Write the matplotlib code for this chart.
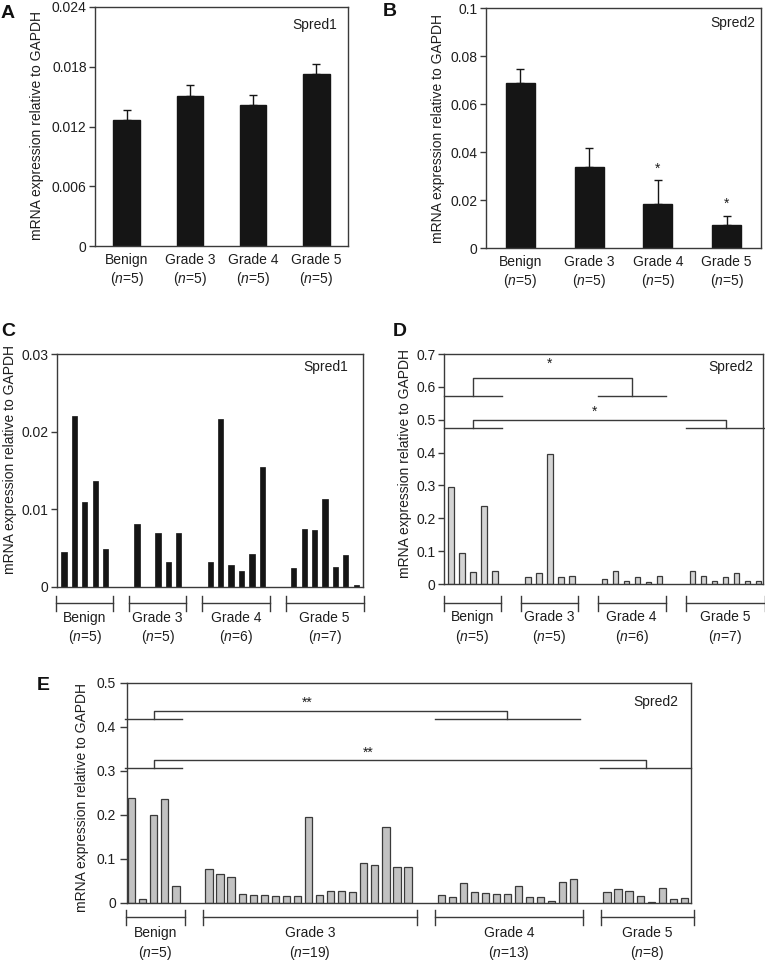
import matplotlib
matplotlib.use('Agg')
import matplotlib.pyplot as plt
from matplotlib.transforms import blended_transform_factory
import numpy as np

plt.rcParams['font.family'] = ['Liberation Sans', 'DejaVu Sans']
plt.rcParams['mathtext.fontset'] = 'custom'
plt.rcParams['mathtext.it'] = 'Liberation Sans:italic'
plt.rcParams['mathtext.rm'] = 'Liberation Sans'

# ---------------- data ----------------
groups = ['Benign', 'Grade 3', 'Grade 4', 'Grade 5']

a_n = [5, 5, 5, 5]
a_mean = [0.01265, 0.0151, 0.0142, 0.01725]
a_err = [0.00105, 0.00105, 0.00097, 0.00098]
a_ticks = [0, 0.006, 0.012, 0.018, 0.024]
a_ticklabels = ['0', '0.006', '0.012', '0.018', '0.024']

b_n = [5, 5, 5, 5]
b_mean = [0.0689, 0.0338, 0.0183, 0.0094]
b_err = [0.0058, 0.0079, 0.0099, 0.0041]
b_sig = ['', '', '*', '*']
b_ticks = [0, 0.02, 0.04, 0.06, 0.08, 0.1]
b_ticklabels = ['0', '0.02', '0.04', '0.06', '0.08', '0.1']

c_benign = [0.0045, 0.0220, 0.0109, 0.0136, 0.0049]
c_grade3 = [0.0081, 0.0, 0.0069, 0.0032, 0.0069]
c_grade4 = [0.0032, 0.0216, 0.0028, 0.0021, 0.0043, 0.0154]
c_grade5 = [0.0024, 0.0075, 0.0073, 0.0113, 0.0026, 0.0041, 0.0002]
c_ticks = [0, 0.01, 0.02, 0.03]
c_ticklabels = ['0', '0.01', '0.02', '0.03']

d_benign = [0.296, 0.095, 0.036, 0.237, 0.041]
d_grade3 = [0.020, 0.035, 0.396, 0.020, 0.024]
d_grade4 = [0.015, 0.041, 0.010, 0.020, 0.005, 0.024]
d_grade5 = [0.041, 0.024, 0.010, 0.020, 0.035, 0.010, 0.010]
d_ticks = [0, 0.1, 0.2, 0.3, 0.4, 0.5, 0.6, 0.7]
d_ticklabels = ['0', '0.1', '0.2', '0.3', '0.4', '0.5', '0.6', '0.7']
d_sig = [('Benign', 'Grade 4', '*'), ('Benign', 'Grade 5', '*')]

e_benign = [0.239, 0.009, 0.199, 0.236, 0.038]
e_grade3 = [0.077, 0.066, 0.060, 0.021, 0.018, 0.018, 0.017, 0.017, 0.017,
            0.195, 0.019, 0.027, 0.027, 0.025, 0.090, 0.086, 0.173, 0.082, 0.082]
e_grade4 = [0.019, 0.013, 0.045, 0.026, 0.023, 0.021, 0.021, 0.0385, 0.014,
            0.014, 0.005, 0.048, 0.054]
e_grade5 = [0.026, 0.032, 0.027, 0.017, 0.002, 0.035, 0.009, 0.011]
e_ticks = [0, 0.1, 0.2, 0.3, 0.4, 0.5]
e_ticklabels = ['0', '0.1', '0.2', '0.3', '0.4', '0.5']
e_sig = [('Benign', 'Grade 4', '**'), ('Benign', 'Grade 5', '**')]

ylabel = 'mRNA expression relative to GAPDH'

# ---------------- layout helpers ----------------
W, H = 765, 961
fig = plt.figure(figsize=(W / 100, H / 100), dpi=100)
SPINE = '#3a3a3a'
TXT = '#1e1e1e'
FS = 10


def px_axes(l, t, r, b):
    return fig.add_axes([l / W, 1 - b / H, (r - l) / W, (b - t) / H])


def style(ax, ticks, labels, pad):
    ax.set_yticks(ticks)
    ax.set_yticklabels(labels)
    for s in ax.spines.values():
        s.set_color(SPINE)
        s.set_linewidth(1.0)
    ax.tick_params(axis='y', direction='out', length=4, width=1, color=SPINE,
                   labelsize=FS, pad=pad, labelcolor=TXT)
    ax.tick_params(axis='x', length=0, labelsize=FS, labelcolor=TXT)


def nlabel(name, n):
    return f'{name}\n($\\mathit{{n}}$={n})'


def slot_positions(sizes):
    pos = []
    start = 0
    for n in sizes:
        pos.append(np.arange(start, start + n))
        start += n + 2
    return pos


def group_brackets(ax, positions, sizes, lo, hi, dy_line, dy_label, ax_h):
    tr = blended_transform_factory(ax.transData, ax.transAxes)
    y = -dy_line / ax_h
    th = 7.5 / ax_h
    for pos, name, n in zip(positions, groups, sizes):
        x0, x1 = pos[0] - lo, pos[-1] + hi
        ax.plot([x0, x1], [y, y], transform=tr, clip_on=False, color=SPINE, lw=1)
        for x in (x0, x1):
            ax.plot([x, x], [y - th, y + th], transform=tr, clip_on=False,
                    color=SPINE, lw=1)
        ax.text((x0 + x1) / 2, -dy_label / ax_h, nlabel(name, n), transform=tr,
                ha='center', va='center', fontsize=FS, color=TXT, linespacing=1.25)


def sig_brackets(ax, positions, sigs, levels, star_frac):
    idx = {g: i for i, g in enumerate(groups)}
    for (g1, g2, mark), (ylo, yhi, ystar) in zip(sigs, levels):
        p1, p2 = positions[idx[g1]], positions[idx[g2]]
        c1, c2 = p1.mean(), p2.mean()
        kw = dict(color=SPINE, lw=1, clip_on=False)
        ax.plot([p1[0] - 0.6, p1[-1] + 0.6], [ylo, ylo], **kw)
        ax.plot([p2[0] - 0.6, p2[-1] + 0.6], [ylo, ylo], **kw)
        ax.plot([c1, c1, c2, c2], [ylo, yhi, yhi, ylo], **kw)
        ax.text(c1 + star_frac * (c2 - c1), ystar, mark, ha='center', va='center',
                fontsize=FS, color=TXT)


# ---------------- Panel A ----------------
axA = px_axes(95, 7, 348, 246)
xa = np.arange(len(groups))
axA.bar(xa, a_mean, width=0.42, color='#151515', edgecolor='#151515')
axA.errorbar(xa, a_mean, yerr=[np.zeros(4), a_err], fmt='none', ecolor='#151515',
             elinewidth=1, capsize=3, capthick=1)
axA.set_xticks(xa)
axA.set_xticklabels([nlabel(g, n) for g, n in zip(groups, a_n)], linespacing=1.25)
style(axA, a_ticks, a_ticklabels, 2)
axA.tick_params(axis='x', pad=5)
axA.set_xlim(-0.5, 3.5)
axA.set_ylim(0, 0.024)
axA.text(0.957, 0.925, 'Spred1', transform=axA.transAxes, ha='right', va='center',
         fontsize=FS, color=TXT)

# ---------------- Panel B ----------------
axB = px_axes(486, 8, 761, 248)
axB.bar(xa, b_mean, width=0.42, color='#151515', edgecolor='#151515')
axB.errorbar(xa, b_mean, yerr=[np.zeros(4), b_err], fmt='none', ecolor='#151515',
             elinewidth=1, capsize=3, capthick=1)
for i, s in enumerate(b_sig):
    if s:
        axB.text(i, b_mean[i] + b_err[i] + 0.0048, s, ha='center', va='center',
                 fontsize=FS, color=TXT)
axB.set_xticks(xa)
axB.set_xticklabels([nlabel(g, n) for g, n in zip(groups, b_n)], linespacing=1.25)
style(axB, b_ticks, b_ticklabels, 2)
axB.tick_params(axis='x', pad=5)
axB.set_xlim(-0.5, 3.5)
axB.set_ylim(0, 0.1)
axB.text(0.978, 0.9375, 'Spred2', transform=axB.transAxes, ha='right', va='center',
         fontsize=FS, color=TXT)

# ---------------- Panel C ----------------
c_data = [c_benign, c_grade3, c_grade4, c_grade5]
c_sizes = [len(v) for v in c_data]
c_pos = slot_positions(c_sizes)
axC = px_axes(57, 354, 363, 587)
for p, v in zip(c_pos, c_data):
    axC.bar(p, v, width=0.5, color='#151515', edgecolor='#151515', linewidth=0.5)
style(axC, c_ticks, c_ticklabels, 2)
axC.set_xticks([])
group_brackets(axC, c_pos, c_sizes, 0.75, 0.7, 16, 41.5, 233)
axC.set_xlim(-0.67, 28.64)
axC.set_ylim(0, 0.03)
axC.text(0.951, 0.944, 'Spred1', transform=axC.transAxes, ha='right', va='center',
         fontsize=FS, color=TXT)

# ---------------- Panel D ----------------
d_data = [d_benign, d_grade3, d_grade4, d_grade5]
d_sizes = [len(v) for v in d_data]
d_pos = slot_positions(d_sizes)
axD = px_axes(444, 354, 763, 584)
for p, v in zip(d_pos, d_data):
    axD.bar(p, v, width=0.48, color='#d4d4d4', edgecolor='#3a3a3a', linewidth=0.9)
style(axD, d_ticks, d_ticklabels, 2)
axD.set_xticks([])
sig_brackets(axD, d_pos, d_sig, [(0.572, 0.626, 0.67), (0.474, 0.499, 0.523)], 0.48)
group_brackets(axD, d_pos, d_sizes, 0.65, 0.55, 19, 44, 230)
axD.set_xlim(-0.64, 28.4)
axD.set_ylim(0, 0.7)
axD.text(0.969, 0.943, 'Spred2', transform=axD.transAxes, ha='right', va='center',
         fontsize=FS, color=TXT)

# ---------------- Panel E ----------------
e_data = [e_benign, e_grade3, e_grade4, e_grade5]
e_sizes = [len(v) for v in e_data]
e_pos = slot_positions(e_sizes)
axE = px_axes(127, 683, 691, 903)
for p, v in zip(e_pos, e_data):
    axE.bar(p, v, width=0.66, color='#c2c2c2', edgecolor='#3a3a3a', linewidth=0.9)
style(axE, e_ticks, e_ticklabels, 3)
axE.tick_params(axis='y', length=5)
axE.set_xticks([])
sig_brackets(axE, e_pos, e_sig, [(0.418, 0.437, 0.455), (0.306, 0.325, 0.342)], 0.435)
group_brackets(axE, e_pos, e_sizes, 0.55, 0.85, 14, 41, 220)
axE.set_xlim(-0.42, 50.6)
axE.set_ylim(0, 0.5)
axE.text(0.977, 0.914, 'Spred2', transform=axE.transAxes, ha='right', va='center',
         fontsize=FS, color=TXT)

# ---------------- y labels & panel letters ----------------
for x, y in [(37, 126), (438, 128), (10, 460), (405, 464), (82, 797)]:
    fig.text(x / W, 1 - y / H, ylabel, rotation=90, ha='center', va='center',
             fontsize=FS, color=TXT)

for lab, x, y in [('A', 8, 13), ('B', 390, 12), ('C', 8, 331), ('D', 400, 331), ('E', 43, 686)]:
    fig.text(x / W, 1 - y / H, lab, ha='center', va='center', fontsize=14,
             fontweight='bold', color='#111')

fig.savefig('out.png', dpi=100, facecolor='white')
